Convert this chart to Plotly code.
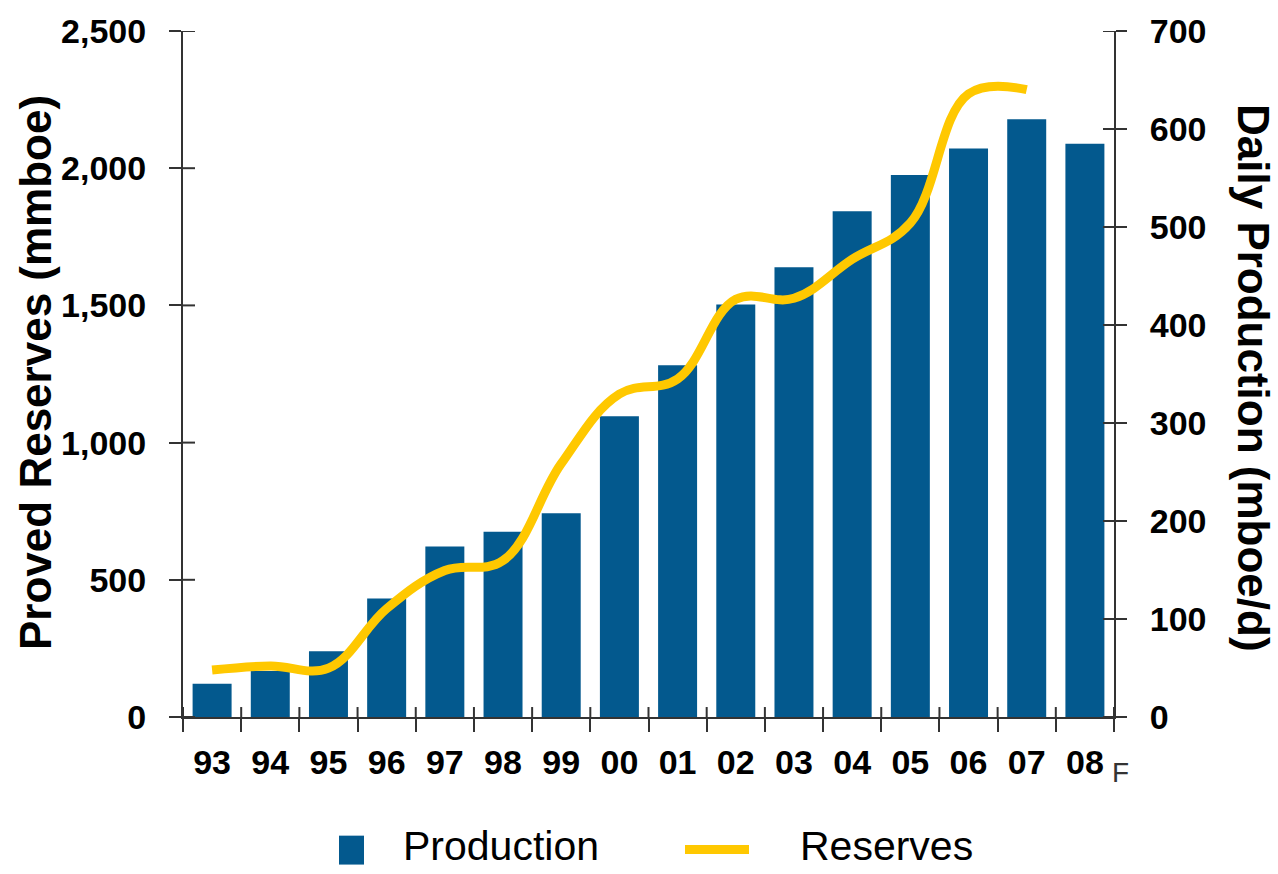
import plotly.graph_objects as go

years = ["93", "94", "95", "96", "97", "98", "99", "00", "01", "02", "03", "04", "05", "06", "07", "08"]
production = [34, 47, 67, 121, 174, 189, 208, 307, 359, 421, 459, 516, 553, 580, 610, 585]
reserves_years = years[:15]
reserves = [171, 186, 178, 395, 534, 570, 923, 1177, 1232, 1522, 1526, 1668, 1800, 2271, 2286]
left_ticks = [0, 500, 1000, 1500, 2000, 2500]
right_ticks = [0, 100, 200, 300, 400, 500, 600, 700]

BLUE = "#03598E"
GOLD = "#FFC800"
AXC = "#333333"
FONT = "Liberation Sans, Arial, sans-serif"

fig = go.Figure()
fig.add_trace(go.Bar(x=years, y=production, name="Production", marker=dict(color=BLUE, line=dict(width=0)),
                     width=0.67, yaxis="y", showlegend=False))
fig.add_trace(go.Scatter(x=reserves_years, y=reserves, name="Reserves", mode="lines",
                         line=dict(color=GOLD, width=9, shape="spline", smoothing=1.1),
                         yaxis="y2", showlegend=False))

W, H = 1278, 874
ml, mr, mt, mb = 183, 164, 29, 157
pw, ph = W - ml - mr, H - mt - mb

tickfont = dict(family=FONT, size=34, color="black", weight="bold")

fig.update_layout(
    width=W, height=H, autosize=False,
    margin=dict(l=ml, r=mr, t=mt, b=mb),
    paper_bgcolor="white", plot_bgcolor="white",
    font=dict(family=FONT),
    bargap=0.33,
    xaxis=dict(type="category", categoryorder="array", categoryarray=years, range=[-0.5, 15.5],
               tickson="boundaries", ticks="outside", ticklen=13, tickwidth=2, tickcolor=AXC,
               showline=True, linecolor=AXC, linewidth=2, showgrid=False, zeroline=False,
               tickfont=tickfont, ticklabelstandoff=14),
    yaxis=dict(range=[0, 700], tickvals=right_ticks, side="right", ticks="outside", ticklen=11,
               tickwidth=2, tickcolor=AXC, showline=True, linecolor=AXC, linewidth=2,
               showgrid=False, zeroline=False, tickfont=tickfont, ticklabelstandoff=16),
    yaxis2=dict(range=[0, 2500], tickvals=left_ticks, tickformat=",", overlaying="y", side="left",
                ticks="outside", ticklen=12, tickwidth=2, tickcolor=AXC, showline=True, linecolor=AXC,
                linewidth=2, showgrid=False, zeroline=False, tickfont=tickfont, ticklabelstandoff=16),
)

shapes = []
for v in left_ticks:
    shapes.append(dict(type="line", xref="paper", yref="y2", x0=0, x1=12 / pw, y0=v, y1=v,
                       line=dict(color=AXC, width=2), layer="above"))
for v in right_ticks:
    shapes.append(dict(type="line", xref="paper", yref="y", x0=1 - 11 / pw, x1=1, y0=v, y1=v,
                       line=dict(color=AXC, width=2), layer="above"))
for i in range(len(years) + 1):
    shapes.append(dict(type="line", xref="x", yref="paper", x0=i - 0.5, x1=i - 0.5, y0=0, y1=10 / ph,
                       line=dict(color=AXC, width=2), layer="above"))

# legend (drawn manually)
shapes.append(dict(type="rect", xref="paper", yref="paper",
                   x0=(339 - ml) / pw, x1=(364 - ml) / pw, y0=(H - mb - 865) / ph, y1=(H - mb - 836) / ph,
                   fillcolor=BLUE, line=dict(width=0)))
shapes.append(dict(type="line", xref="paper", yref="paper",
                   x0=(685 - ml) / pw, x1=(749 - ml) / pw, y0=(H - mb - 850) / ph, y1=(H - mb - 850) / ph,
                   line=dict(color=GOLD, width=9)))
fig.update_layout(shapes=shapes)

annotations = [
    dict(text="Proved Reserves (mmboe)", xref="paper", yref="paper", x=(35 - ml) / pw, y=(H - mb - 372) / ph,
         textangle=-90, showarrow=False, xanchor="center", yanchor="middle",
         font=dict(family=FONT, size=44, color="black", weight="bold")),
    dict(text="Daily Production (mboe/d)", xref="paper", yref="paper", x=(1253 - ml) / pw, y=(H - mb - 377) / ph,
         textangle=90, showarrow=False, xanchor="center", yanchor="middle",
         font=dict(family=FONT, size=44, color="black", weight="bold")),
    dict(text="F", xref="x", yref="paper", x=len(years) - 1, y=0, xshift=36, yshift=-55, showarrow=False,
         xanchor="center", yanchor="middle", font=dict(family=FONT, size=28, color="#333333")),
    dict(text="Production", xref="paper", yref="paper", x=(402 - ml) / pw, y=(H - mb - 846) / ph,
         showarrow=False, xanchor="left", yanchor="middle", borderpad=0,
         font=dict(family=FONT, size=41, color="black")),
    dict(text="Reserves", xref="paper", yref="paper", x=(799 - ml) / pw, y=(H - mb - 846) / ph,
         showarrow=False, xanchor="left", yanchor="middle", borderpad=0,
         font=dict(family=FONT, size=41, color="black")),
]
fig.update_layout(annotations=annotations)

fig.write_html("out.html")
